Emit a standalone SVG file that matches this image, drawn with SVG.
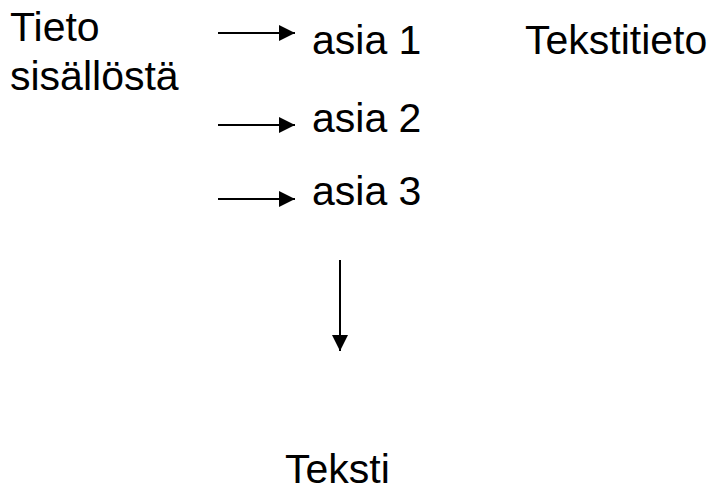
<svg xmlns="http://www.w3.org/2000/svg" width="717" height="496" viewBox="0 0 717 496">
<style>
text{font-family:"Liberation Sans",Arial,sans-serif;font-size:41px;fill:#000}
.c{stroke:#000;stroke-width:2;fill:none}
</style>
<defs>
<marker id="ah" markerWidth="8" markerHeight="8" refX="8" refY="4" orient="auto" markerUnits="strokeWidth">
<path d="M0,0 L8,4 L0,8 Z" fill="#000"/>
</marker>
</defs>
<rect width="717" height="496" fill="#fff"/>
<g id="connectors">
<line class="c" x1="218" y1="33" x2="295" y2="33" marker-end="url(#ah)"/>
<line class="c" x1="218" y1="125" x2="295" y2="125" marker-end="url(#ah)"/>
<line class="c" x1="218" y1="199" x2="295" y2="199" marker-end="url(#ah)"/>
<line class="c" x1="340" y1="260" x2="340" y2="351" marker-end="url(#ah)"/>
</g>
<g id="tieto"><text x="10" y="41">Tieto</text><text x="10" y="90">sisällöstä</text></g>
<g id="asia1"><text x="312" y="54">asia 1</text></g>
<g id="asia2"><text x="312" y="132">asia 2</text></g>
<g id="asia3"><text x="312" y="205">asia 3</text></g>
<g id="tekstitieto"><text x="525" y="54">Tekstitieto</text></g>
<g id="teksti"><text x="285" y="483">Teksti</text></g>
</svg>
